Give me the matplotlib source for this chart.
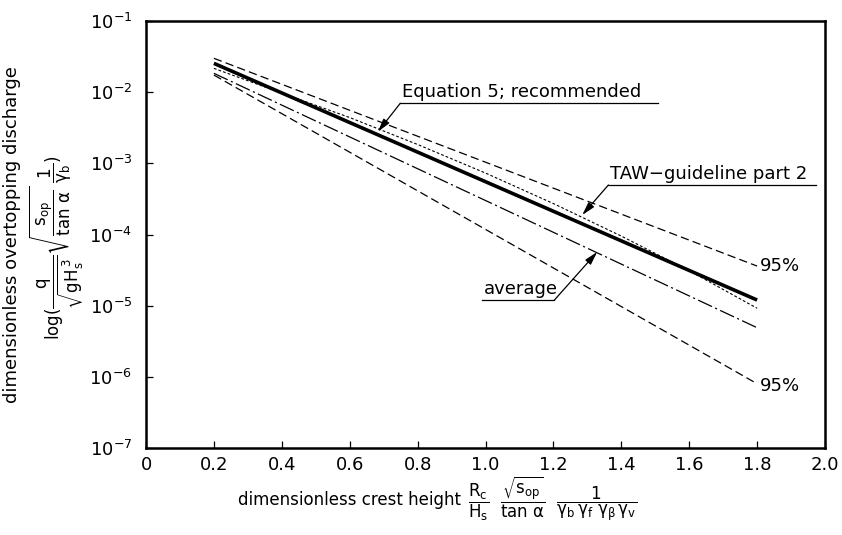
import numpy as np
import matplotlib
matplotlib.use('Agg')
import matplotlib.pyplot as plt

# data ---------------------------------------------------
x_ends = [0.2, 1.8]
q_eq5 = [2.54e-2, 1.2e-5]        # Equation 5; recommended (thick)
q_up95 = [2.99e-2, 3.6e-5]       # upper 95%
q_low95 = [1.74e-2, 8.0e-7]      # lower 95%
q_avg = [1.84e-2, 4.9e-6]        # average (dash-dot)

taw_x = [0.2, 0.4, 0.6, 0.8, 1.0, 1.2, 1.4, 1.6, 1.8]
taw_q = [2.16e-2, 9.7e-3, 4.4e-3, 1.84e-3, 7.3e-4, 2.72e-4, 9.5e-5, 3.1e-5, 9.2e-6]

x_ticks = [0, 0.2, 0.4, 0.6, 0.8, 1.0, 1.2, 1.4, 1.6, 1.8, 2.0]
x_ticklabels = ['0', '0.2', '0.4', '0.6', '0.8', '1.0', '1.2', '1.4', '1.6', '1.8', '2.0']
y_ticks = [1e-7, 1e-6, 1e-5, 1e-4, 1e-3, 1e-2, 1e-1]

plt.rcParams['font.family'] = ['DejaVu Sans']
plt.rcParams['mathtext.default'] = 'regular'
plt.rcParams['lines.scale_dashes'] = False

W, H = 842, 535
fig = plt.figure(figsize=(W / 100, H / 100), dpi=100)
ax = fig.add_axes([146 / W, 87 / H, 679 / W, 427 / H])

ax.set_xlim(0, 2.0)
ax.set_yscale('log')
ax.set_ylim(1e-7, 1e-1)

#lines ----------------------------------
ax.plot(x_ends, q_up95, color='k', lw=0.9, dashes=(6, 3))
ax.plot(x_ends, q_low95, color='k', lw=0.9, dashes=(6, 3))
ax.plot(x_ends, q_avg, color='k', lw=0.9, dashes=(11, 2.5, 1.5, 2.5))
ax.plot(taw_x, taw_q, color='k', lw=0.8, dashes=(2, 1.5))
ax.plot(x_ends, q_eq5, color='k', lw=2.6, solid_capstyle='butt')

# labels with underline + arrow ----------------------------------
def label(text, x0, x1, y_line, tip, elbow_left=True):
    ax.plot([x0, x1], [y_line, y_line], color='k', lw=0.9)
    ax.annotate(text, xy=(x0, y_line), xytext=(1, 4.5), textcoords='offset points',
                va='baseline', ha='left', fontsize=13)
    elbow = (x0, y_line) if elbow_left else (x1, y_line)
    ax.annotate('', xy=tip, xytext=elbow,
                arrowprops=dict(arrowstyle='-|>,head_length=0.8,head_width=0.22',
                                lw=0.9, color='k', shrinkA=0, shrinkB=0))

label('Equation 5; recommended', 0.749, 1.507, 6.98e-3, (0.683, 2.78e-3))
label('TAW\u2212guideline part 2', 1.362, 1.974, 4.96e-4, (1.285, 1.88e-4))
label('average', 0.991, 1.203, 1.2e-5, (1.329, 5.68e-5), elbow_left=False)

ax.text(1.808, 3.6e-5, '95%', va='center', ha='left', fontsize=13)
ax.text(1.808, 7.4e-7, '95%', va='center', ha='left', fontsize=13)

# axes styling ----------------------------------
for s in ax.spines.values():
    s.set_linewidth(1.8)
ax.set_xticks(x_ticks)
ax.set_xticklabels(x_ticklabels)
ax.set_yticks(y_ticks)
ax.minorticks_off()
ax.tick_params(axis='both', direction='in', length=5, width=0.9, labelsize=13)
ax.tick_params(axis='x', pad=6)
ax.tick_params(axis='y', pad=10)

fig.text(12 / W, 1 - 235 / H, 'dimensionless overtopping discharge',
         rotation=90, ha='center', va='center', fontsize=13)
fig.text(57 / W, 1 - 248 / H,
         r'$\log(\dfrac{q}{\sqrt{gH_s^{\,3}}}\sqrt{\dfrac{s_{op}}{\tan\,\alpha}}\ \dfrac{1}{\gamma_b})$',
         rotation=90, ha='center', va='center', fontsize=12)

fig.text(238 / W, 1 - 500 / H, 'dimensionless crest height', ha='left', va='center', fontsize=12)
fig.text(468 / W, 1 - 499 / H,
         r'$\dfrac{R_c}{H_s}\ \ \dfrac{\sqrt{s_{op}}}{\tan\,\alpha}\ \ \dfrac{1}{\gamma_b\,\gamma_f\ \gamma_\beta\,\gamma_v}$',
         ha='left', va='center', fontsize=12)

fig.savefig('out.png', dpi=100)
